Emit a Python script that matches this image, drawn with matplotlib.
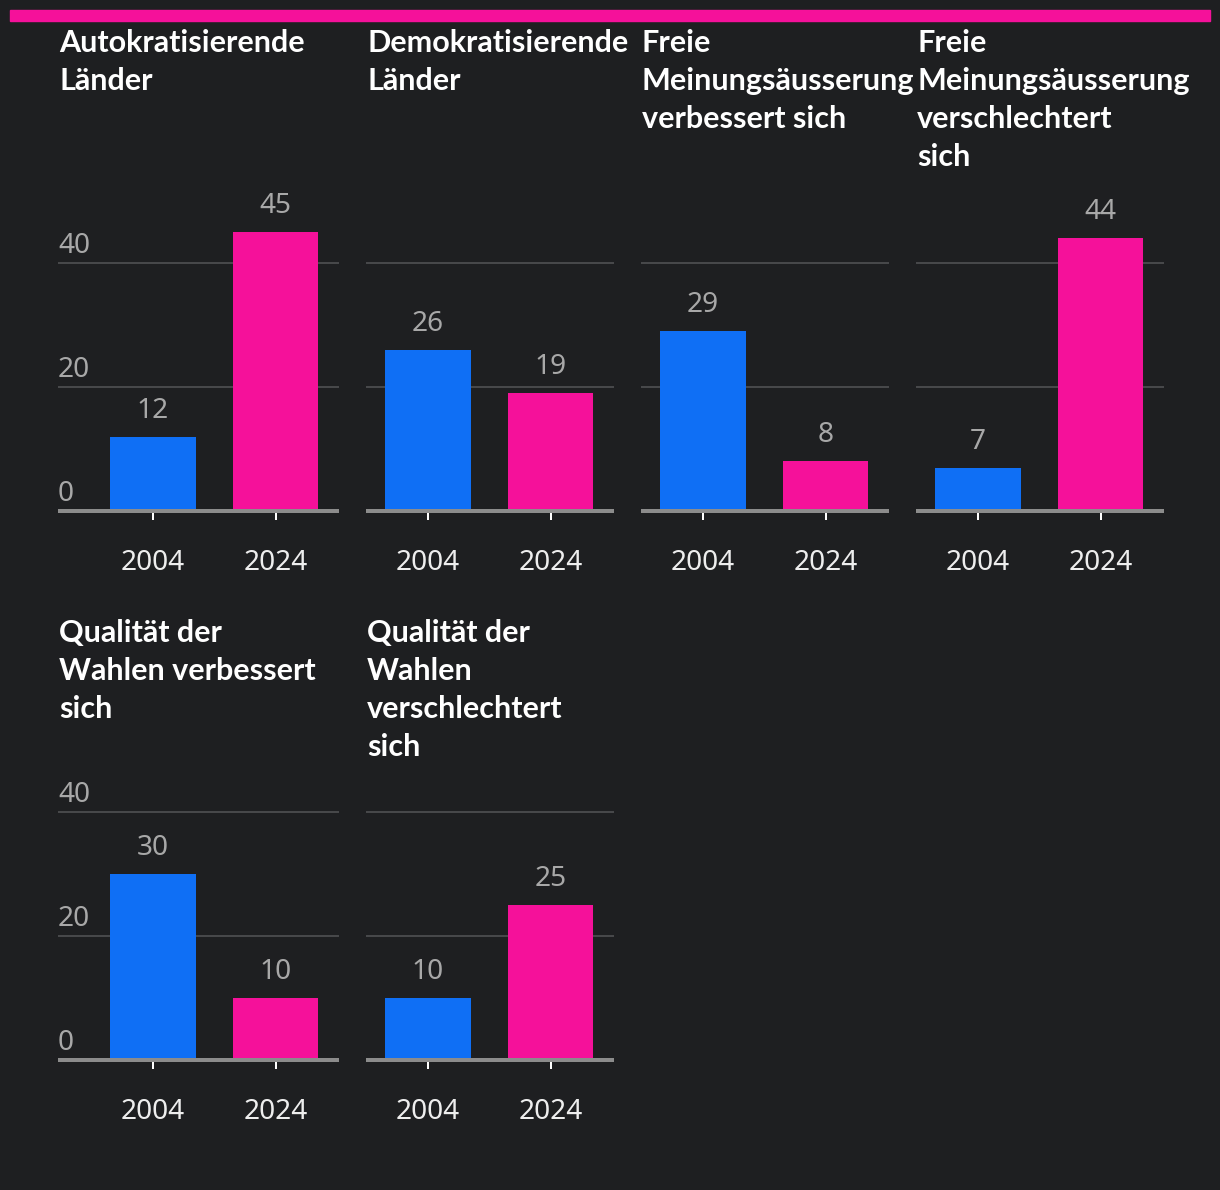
import matplotlib
matplotlib.use('Agg')
import matplotlib.pyplot as plt

# data
years = ['2004', '2024']
titles = ['Autokratisierende\nLänder',
          'Demokratisierende\nLänder',
          'Freie\nMeinungsäusserung\nverbessert sich',
          'Freie\nMeinungsäusserung\nverschlechtert\nsich',
          'Qualität der\nWahlen verbessert\nsich',
          'Qualität der\nWahlen\nverschlechtert\nsich']
values_2004 = [12, 26, 29, 7, 30, 10]
values_2024 = [45, 19, 8, 44, 10, 25]
yticks = [0, 20, 40]

BG = '#1e1f21'
BLUE = '#0f6ff5'
PINK = '#f5119a'
W, H = 1220, 1190
DPI = 100
PX = 72 / DPI  # points per pixel

plt.rcParams['font.family'] = ['Noto Sans', 'DejaVu Sans']

fig = plt.figure(figsize=(W / DPI, H / DPI), dpi=DPI, facecolor=BG)

# top pink stripe
fig.patches.append(plt.Rectangle((10 / W, 1 - 21 / H), 1200 / W, 11 / H,
                                 transform=fig.transFigure, color=PINK))

# panel layout in pixels
centers = [153, 428, 703, 978, 153, 428]
lefts = [58, 366, 641, 916, 58, 366]
base_y = [511, 511, 511, 511, 1060, 1060]
title_y = [41, 41, 41, 41, 631, 631]
gap = 122.5      # px between bar centers
scale = 6.2      # px per unit
ymax = 48

for i in range(6):
    left = lefts[i]
    right = centers[i] + gap + 63
    x0 = (left - centers[i]) / gap
    x1 = (right - centers[i]) / gap
    ax = fig.add_axes([left / W, 1 - base_y[i] / H, (right - left) / W, ymax * scale / H])
    ax.set_facecolor('none')
    ax.bar([0, 1], [values_2004[i], values_2024[i]], width=0.70, color=[BLUE, PINK], zorder=3)
    ax.set_xlim(x0, x1)
    ax.set_ylim(0, ymax)
    for s in ax.spines.values():
        s.set_visible(False)
    for g in yticks[1:]:
        ax.axhline(g, color='#555658', lw=1.5 * PX, zorder=1)
    ax.axhline(0, color='#8c8c8c', lw=4 * PX, zorder=4, clip_on=False,
               solid_capstyle='butt')
    ax.set_yticks([])
    ax.set_xticks([0, 1])
    ax.set_xticklabels(years)
    ax.tick_params(axis='x', length=9 * PX, width=2 * PX, color='white',
                   labelcolor='#eeeeee', labelsize=28 * PX, pad=29 * PX)
    for xi, v in zip([0, 1], [values_2004[i], values_2024[i]]):
        ax.annotate(str(v), (xi, v), xytext=(0, 19 * PX), textcoords='offset points',
                    ha='center', va='baseline', color='#a8a8a8', fontsize=28 * PX)
    if i in (0, 4):
        for g in yticks:
            ax.annotate(str(g), (x0, g), xytext=(0, 10 * PX), textcoords='offset points',
                        ha='left', va='baseline', color='#a8a8a8', fontsize=28 * PX)
    fig.text((left + 1) / W, 1 - (title_y[i] - 12) / H, titles[i], ha='left', va='top',
             color='white', fontsize=30.5 * PX, fontweight='bold', linespacing=1.44,
             family=['Lato', 'DejaVu Sans'])

fig.savefig('out.png', dpi=DPI, facecolor=BG)
